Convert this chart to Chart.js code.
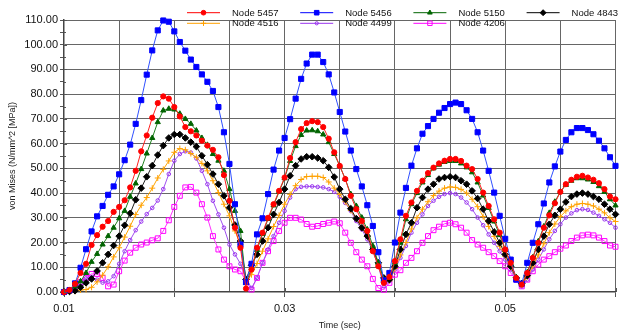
<!DOCTYPE html>
<html>
<head>
<meta charset="utf-8">
<script src="https://cdn.jsdelivr.net/npm/chart.js@4.4.1/dist/chart.umd.min.js"></script>
<style>
html,body{margin:0;padding:0;background:#fff;}
#wrap{position:relative;width:623px;height:331px;}
</style>
</head>
<body>
<div id="wrap"><canvas id="c" width="623" height="331"></canvas></div>
<script>
// ---- data ----
const times = [
0.0100,0.0105,0.0110,0.0115,0.0120,0.0125,0.0130,0.0135,0.0140,0.0145,
0.0150,0.0155,0.0160,0.0165,0.0170,0.0175,0.0180,0.0185,0.0190,0.0195,
0.0200,0.0205,0.0210,0.0215,0.0220,0.0225,0.0230,0.0235,0.0240,0.0245,
0.0250,0.0255,0.0260,0.0265,0.0270,0.0275,0.0280,0.0285,0.0290,0.0295,
0.0300,0.0305,0.0310,0.0315,0.0320,0.0325,0.0330,0.0335,0.0340,0.0345,
0.0350,0.0355,0.0360,0.0365,0.0370,0.0375,0.0380,0.0385,0.0390,0.0395,
0.0400,0.0405,0.0410,0.0415,0.0420,0.0425,0.0430,0.0435,0.0440,0.0445,
0.0450,0.0455,0.0460,0.0465,0.0470,0.0475,0.0480,0.0485,0.0490,0.0495,
0.0500,0.0505,0.0510,0.0515,0.0520,0.0525,0.0530,0.0535,0.0540,0.0545,
0.0550,0.0555,0.0560,0.0565,0.0570,0.0575,0.0580,0.0585,0.0590,0.0595,
0.0600];

const node5457 = [
0,0.8,3.3,7.7,11.4,19,23,26.4,28.7,32.4,
34.4,37.1,42.3,49,56.9,63.3,70.5,76.4,79.1,78.2,
74.8,71,66.7,65,63.3,61.2,59.2,57.5,54.5,47.3,
36.9,26,17.9,1.4,9.1,17.9,24,30,35.5,40.9,
46.3,54.2,60.6,65.9,68.3,69.1,68.7,66.7,62,56.5,
51,45.7,38.9,33.5,28.7,24.7,16.5,10.4,3.7,6.1,
12.5,21.3,30.8,36.2,40.9,45,48.1,50.3,52,53.1,
53.8,53.8,53,51.1,49.7,45.7,40.2,34.8,29.4,24,
17.2,11.8,5.7,3,7.7,13.8,19.9,26,31,35.9,
40.5,43.6,45.4,46.6,47,46.3,45.4,44,41.6,38.6,
37.5];

const node5456 = [
0,0.8,3.5,9.8,17.3,24.5,30.6,34.8,39.3,42.7,
47.6,53.3,59.6,68,77.6,87.9,97.7,105.8,109.8,109.3,
105.4,101.1,97.6,94,91,88,85,81.3,74.8,64.6,
51.8,35.5,19.2,4,11.4,23.3,29.8,39.6,49.5,57.2,
62.3,69.9,78.2,86.2,92.4,96,96,93,88,80.7,
72.8,64.9,57.2,49.7,42.7,35.1,26.7,16.1,4.7,7.7,
20,32.1,42.1,51.1,58.1,64,67.1,70,72.5,74.4,
76,76.6,76,73.5,70,64.6,57.2,49,40.2,30.8,
21.5,13.1,5,3.4,11.8,19.9,27.4,35.8,44.3,50.8,
56.8,61.5,64.6,66.3,66.3,65.5,63.8,61.2,58.1,54.5,
51];

const node5150 = [
0,0.3,2.3,4.3,7.7,12.2,15.4,19.2,22.6,26,
29.8,32.8,38.5,43.9,49.7,56,62.3,68.7,73.4,74.1,
73.8,72.1,70,68,65.3,62.3,59.5,55.8,53.1,49,
41.6,32.8,24.7,3.7,9.5,17,23.5,29.5,35,40.5,
46,53,59,63.5,65.3,65.4,65,63.7,60.6,55.8,
51,45.7,39.6,34.8,30.1,25.3,18.6,11.8,5,5.7,
11.8,19.9,29.4,35.5,40,44.3,47.3,50,51.5,52.6,
53,53,52,50.4,48.4,44.3,39,34,28.5,23,
17,11.5,6,3,8,14,20.5,26.5,32,36.5,
40.5,43.3,45,46,46,45.5,44.5,42.8,40.5,37.5,
35];

const node4843 = [
0,0.2,0.5,1.9,3.7,5.3,8.5,11.8,15.2,18.8,
22.6,27,31.8,37.3,42,46.6,51.1,55.4,59.2,62.3,
63.7,63.7,62.3,60.6,58.8,55.1,51.5,47.7,43.6,38.9,
34.1,27.1,20.6,5,10.8,15.2,20.6,26,31.4,36.2,
41.6,47,51.1,53.8,54.7,54.7,54.2,53.1,50.4,46.5,
41.6,37.5,33.7,29.7,26,22.6,17.2,11.8,5.7,5,
10.4,17.2,23.3,28,34.1,38.2,41.6,43.6,45.7,46.3,
46.6,46.3,45,43.6,40.9,37.8,33.5,28.7,24.3,19.9,
15.2,10.4,5.7,3.4,6.6,11.8,17.2,22.6,27.4,31,
33.5,36.4,38.6,39.6,40,39.6,38.6,37.5,35.5,33.5,
31.4];

const node4516 = [
0,0,0.3,0.8,1,1.9,4.1,6.8,10.2,14.2,
17.9,22.2,26.6,31.3,35.1,38.2,42,46.1,49.6,53,
56.5,58,57.5,56,54.5,52,49,45,40.2,35.5,
30.8,24.7,19.2,4.3,7,11.5,16.5,21.5,26.5,31,
35.5,39.5,43,45.5,46.7,46.8,46.8,46.3,44.5,42,
39.5,36.5,33,29.5,26,22.5,17,11,4,4.5,
9.5,15,20,25.5,30,33.5,36.5,39,40.8,42,
42.5,42.3,41.5,40,37.5,34.5,30.5,26.5,22.5,18.5,
14.5,10,5.5,3,6,10.5,15,19.5,24,27.5,
30.5,32.8,34.5,35.5,35.8,35.5,34.8,33.5,32,30,
28.5];

const node4499 = [
0,0.5,1.5,3.5,5.5,6,5,3.8,4.3,6.4,
11.4,16.5,21,25,28.5,31.5,34,37,41.6,47.7,
53.1,55.8,56.9,56.4,54,49,43.6,36.9,31.4,26,
19.2,15.2,11.4,5.7,1.6,5.7,11.8,17.2,22.6,28,
32.8,38.2,41.6,42.5,42.7,42.7,42.5,42.3,41.6,40.5,
38.5,36,32.8,28.7,25.3,21.3,16.5,10.4,2.3,4.3,
9.1,13.8,18.6,24,28,31.4,34.8,36.9,38.5,39.6,
40,39.6,38.2,36.2,33.5,30.1,27,23.3,19.9,16.5,
13.1,9.1,5,2.3,5,9.1,13.1,17.2,21.3,24.7,
27.4,30.1,31.8,33.1,33.5,33.2,32.1,30.8,29.4,28,
26];

const node4206 = [
0,0.5,2,4,5.7,7.3,7.3,5.7,2.3,3,
8.4,12.7,15.9,17.9,19.2,20,20.9,21.7,24.7,29,
34.4,38.9,42.3,42.5,40.2,35.5,30.1,22.6,17.2,13.1,
10.4,9.1,8.4,4.3,1,5.7,11.8,16.5,20.6,24.7,
28,30,30,29.3,27.5,26.4,26.7,27.5,28,28.5,
27.8,24,19.9,16.1,13.1,10.4,5.3,1.6,0.9,3.7,
7,8.8,11.8,13.8,16.5,19.9,22.6,25,26.4,27.6,
28,27.4,26,24,21,19.2,17.9,16.1,14.5,12.5,
10.4,7.7,5,2.3,5,8.4,11.1,13.1,14.5,16.1,
17.5,18.8,20.6,22,22.9,23.2,22.9,22,20.6,18.8,
18.3];

const seriesNames = ['Node 5457','Node 5456','Node 5150','Node 4843','Node 4516','Node 4499','Node 4206'];
const seriesValues = [node5457,node5456,node5150,node4843,node4516,node4499,node4206];
const xLabelTicks = ['0.01','0.03','0.05'];

// ---- styles ----
const styles = [
  {color:'#ff0000', line:'#ff2020', point:'circle',   radius:2.6, fill:true},
  {color:'#0000ff', line:'#3050ff', point:'rect',     radius:3.6, fill:true},
  {color:'#006400', line:'#208020', point:'triangle', radius:3,   fill:true},
  {color:'#000000', line:'#202020', point:'rectRot',  radius:3.3, fill:true},
  {color:'#ffa000', line:'#ffa500', point:'cross',    radius:3,   fill:false},
  {color:'#9933ee', line:'#a050f0', point:'circle',   radius:1.8, fill:false},
  {color:'#ff00ff', line:'#ff30ff', point:'rect',     radius:3.5, fill:false}
];

const datasets = seriesNames.map((name, k) => ({
  label: name,
  data: times.map((t, i) => ({x: t, y: seriesValues[k][i]})),
  borderColor: styles[k].line,
  backgroundColor: styles[k].fill ? styles[k].color : '#ffffff',
  borderWidth: 1,
  pointStyle: styles[k].point,
  pointRadius: styles[k].radius,
  pointBorderWidth: 1,
  pointBorderColor: styles[k].color,
  pointBackgroundColor: styles[k].fill ? styles[k].color : 'rgba(255,255,255,0)',
  tension: 0,
  clip: false
}));

const legendPlugin = {
  id: 'customLegend',
  afterDraw(chart) {
    const ctx = chart.ctx;
    ctx.save();
    chart.data.datasets.forEach((ds, k) => {
      const col = k % 4, row = Math.floor(k / 4);
      const x0 = 187 + col * 113.2;
      const y = 12.7 + row * 10.6;
      ctx.strokeStyle = ds.pointBorderColor;
      ctx.lineWidth = 1;
      ctx.setLineDash([]);
      ctx.beginPath();
      ctx.moveTo(x0, y);
      ctx.lineTo(x0 + 33, y);
      ctx.stroke();
      ctx.fillStyle = ds.pointBackgroundColor;
      ctx.strokeStyle = ds.pointBorderColor;
      Chart.helpers.drawPoint(ctx, {pointStyle: ds.pointStyle, radius: ds.pointRadius * 0.9, rotation: 0, borderWidth: 1}, x0 + 16.5, y);
      ctx.fillStyle = '#111';
      ctx.font = '9.5px "Liberation Sans", Arial, sans-serif';
      ctx.textBaseline = 'middle';
      ctx.textAlign = 'left';
      ctx.fillText(ds.label, x0 + 45, y + 0.5);
    });
    ctx.restore();
  }
};

const innerTicks = {
  id: 'innerTicks',
  afterDraw(chart) {
    const ctx = chart.ctx, a = chart.chartArea;
    const xs = chart.scales.x, ys = chart.scales.y;
    ctx.save();
    ctx.strokeStyle = '#555';
    ctx.lineWidth = 1;
    ys.ticks.forEach(t => {
      const y = Math.round(ys.getPixelForValue(t.value)) + 0.5;
      const major = Math.round(t.value) % 10 === 0;
      ctx.beginPath();
      ctx.moveTo(a.left, y);
      ctx.lineTo(a.left + (major ? 3 : 2), y);
      ctx.stroke();
    });
    xs.ticks.forEach(t => {
      const v = Math.round(t.value * 1000);
      if (v % 10 !== 0) return;
      const x = Math.round(xs.getPixelForValue(t.value)) + 0.5;
      ctx.beginPath();
      ctx.moveTo(x, a.bottom);
      ctx.lineTo(x, a.bottom - 4);
      ctx.stroke();
    });
    ctx.restore();
  }
};

const font = '"Liberation Sans", Arial, sans-serif';

new Chart(document.getElementById('c'), {
  type: 'line',
  data: { datasets },
  options: {
    responsive: false,
    animation: false,
    events: [],
    layout: { padding: { left: 0, right: 7.5, top: 20, bottom: 0 } },
    plugins: { legend: { display: false }, tooltip: { enabled: false } },
    scales: {
      x: {
        type: 'linear',
        min: 0.01, max: 0.06,
        afterFit(s) { s.height = 39; },
        afterBuildTicks(s) {
          const arr = [];
          for (let k = 10; k <= 60; k += 5) arr.push({ value: k / 1000 });
          s.ticks = arr;
        },
        ticks: {
          autoSkip: false,
          maxRotation: 0,
          padding: 5,
          color: '#111',
          font: { family: font, size: 11 },
          callback(v) {
            const k = Math.round(v * 1000);
            const lbl = (k / 1000).toFixed(2);
            return xLabelTicks.includes(lbl) && k % 10 === 0 ? lbl : '';
          }
        },
        grid: {
          drawOnChartArea: true,
          color: (c) => { const k = Math.round(c.tick.value * 1000); return (k === 10) ? 'rgba(0,0,0,0)' : '#666'; },
          borderDash: [1, 3],
          tickBorderDash: [],
          tickLength: 5,
          tickColor: (c) => { const k = Math.round(c.tick.value * 1000); return k % 10 === 0 ? '#555' : 'rgba(0,0,0,0)'; }
        },
        border: { display: true, color: '#444', width: 1.5, dash: [] },
        title: { display: true, text: 'Time (sec)', color: '#222', font: { family: font, size: 9 }, padding: { top: 0, bottom: 0 } }
      },
      y: {
        type: 'linear',
        min: 0, max: 110,
        afterFit(s) { s.width = 64; },
        ticks: {
          stepSize: 5,
          autoSkip: false,
          padding: 2,
          color: '#111',
          font: { family: font, size: 11 },
          callback(v) { return Math.round(v) % 10 === 0 ? Number(v).toFixed(2) : ''; }
        },
        grid: {
          color: (c) => (Math.round(c.tick.value) % 10 === 0 && c.tick.value !== 0) ? '#666' : 'rgba(0,0,0,0)',
          borderDash: [1, 3],
          tickBorderDash: [],
          tickLength: 4,
          tickColor: '#555'
        },
        border: { display: true, color: '#444', width: 1.5, dash: [] },
        title: { display: true, text: 'von Mises (N/mm^2 [MPa])', color: '#222', font: { family: font, size: 9 }, padding: { top: 7, bottom: 0 } }
      }
    }
  },
  plugins: [legendPlugin, innerTicks]
});
</script>
</body>
</html>
